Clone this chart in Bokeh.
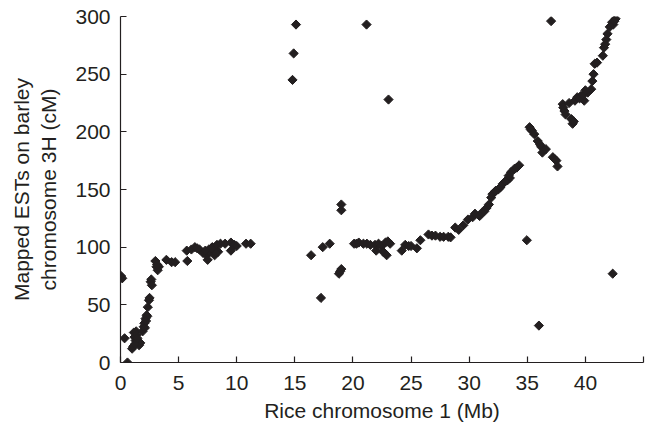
import numpy as np
from bokeh.plotting import figure
from bokeh.models import ColumnDataSource, FixedTicker, Range1d
from bokeh.embed import file_html
from bokeh.resources import INLINE

x_mb = [0.05, 0.15, 0.35, 0.6, 1.0, 1.1, 1.15, 1.2, 1.3, 1.35, 1.4, 1.5, 1.6, 1.7,
        1.9, 2.0, 2.05, 2.15, 2.25, 2.3, 2.35, 2.45, 2.5, 2.6, 2.65, 2.7,
        3.0, 3.1, 3.2, 3.3, 3.95, 4.4, 4.7, 5.7, 5.75, 6.1, 6.4, 6.8, 7.1, 7.4, 7.5,
        7.6, 7.7, 7.9, 8.0, 8.1, 8.3, 8.4, 8.6, 9.5, 9.5, 9.8, 10.8,
        1.25, 1.45, 2.1, 2.2, 3.15, 6.6, 7.3, 7.8, 8.2, 9.0, 10.0,
        11.2, 14.8, 14.9, 15.1, 16.4, 17.25, 17.4, 18.0, 18.8, 18.9, 19.0, 19.0, 19.0,
        20.1, 20.3, 20.5, 20.9, 21.2, 21.17, 21.5, 21.9, 22.0, 22.2, 22.45, 22.6, 22.8,
        22.9, 23.0, 23.06, 23.2, 24.2, 24.5, 24.8, 25.0, 25.5, 25.8, 26.5, 26.8, 27.1,
        27.5, 27.8, 28.2, 28.4,
        28.8, 29.1, 29.5, 29.9, 30.3, 30.5, 30.9, 31.1, 31.3, 31.5, 31.7, 32.0, 32.2,
        32.5, 32.7, 32.9, 33.3, 33.5, 33.6, 33.9, 34.1, 34.3, 34.96, 35.2, 35.4, 35.6,
        35.9, 36.0, 36.2, 36.3, 36.6, 37.05, 37.2, 37.4, 37.5, 37.6, 38.05, 38.2, 38.3,
        38.8, 38.9, 39.1, 39.3, 39.6, 39.9, 40.2, 40.5, 40.6, 40.7, 40.8, 41.0, 41.5,
        41.6, 41.8, 41.9, 42.1, 42.3, 42.35, 42.6,
        31.9, 32.3, 33.1, 33.4, 35.3, 36.1, 38.1, 38.6, 39.0, 39.5, 39.8, 40.0, 41.7, 42.4, 42.5]
y_cm = [75, 73, 21, 0, 12, 14, 26, 22, 19, 27, 24, 17, 15, 17,
        27, 31, 34, 38, 41, 40, 48, 54, 56, 70, 72, 67,
        88, 83, 80, 83, 89, 87, 87, 97, 88, 98, 100, 98, 95, 93, 89,
        98, 96, 100, 97, 93, 102, 96, 103, 104, 97, 102, 103,
        16, 21, 30, 36, 85, 99, 97, 99, 95, 103, 101,
        103, 245, 268, 293, 93, 56, 100, 103, 77, 79, 81, 132, 137,
        103, 103, 104, 103, 103, 293, 102, 102, 97, 103, 101, 96, 104,
        93, 105, 228, 103, 97, 102, 101, 101, 99, 106, 111, 110, 110,
        109, 109, 109, 108.5,
        117, 115, 119, 124, 126, 129, 127, 130, 131, 134, 137, 146, 148,
        150, 152, 155, 158, 160, 165, 168, 169, 171, 106, 204, 201, 198,
        192, 32, 187, 182, 185, 296, 178, 176, 175, 170, 224, 218, 215,
        211, 207, 227, 230, 231, 227, 234, 237, 244, 250, 259, 260, 266,
        273, 280, 285, 291, 295, 77, 298,
        143, 149, 157, 162, 202, 189, 221, 225, 209, 229, 232, 236, 276, 293, 296]

x_ticks = [0, 5, 10, 15, 20, 25, 30, 35, 40, 45]
x_tick_labels = {0: "0", 5: "5", 10: "10", 15: "15", 20: "20", 25: "25",
                 30: "30", 35: "35", 40: "40", 45: ""}
y_ticks = [0, 50, 100, 150, 200, 250, 300]

ink = "#231f20"
FONT = "Liberation Sans"

p = figure(width=648, height=427, output_backend="svg", toolbar_location=None,
           x_range=Range1d(0, 45), y_range=Range1d(0, 300),
           min_border_left=120, min_border_right=5, min_border_top=16,
           min_border_bottom=65)
p.outline_line_color = None
p.grid.visible = False
p.background_fill_color = "white"

src = ColumnDataSource(dict(x=x_mb, y=y_cm))
p.scatter("x", "y", source=src, marker="square", size=6.5, angle=np.pi / 4,
          fill_color=ink, line_color=ink, line_width=1)

for ax in (p.xaxis[0], p.yaxis[0]):
    ax.axis_line_color = ink
    ax.axis_line_width = 1.2
    ax.major_tick_line_color = ink
    ax.major_tick_line_width = 1.2
    ax.major_tick_in = 6
    ax.major_tick_out = 0
    ax.minor_tick_line_color = None
    ax.major_label_text_font = FONT
    ax.major_label_text_font_size = "21px"
    ax.major_label_text_color = ink
    ax.axis_label_text_font = FONT
    ax.axis_label_text_font_size = "21px"
    ax.axis_label_text_font_style = "normal"
    ax.axis_label_text_color = ink

p.xaxis.ticker = FixedTicker(ticks=x_ticks)
p.xaxis.major_label_overrides = x_tick_labels
p.yaxis.ticker = FixedTicker(ticks=y_ticks)
p.xaxis.axis_label = "Rice chromosome 1 (Mb)"
p.yaxis.axis_label = "Mapped ESTs on barley\nchromosome 3H (cM)"
p.xaxis.major_label_standoff = 13
p.yaxis.major_label_standoff = 10
p.xaxis.axis_label_standoff = 6
p.yaxis.axis_label_standoff = 12

open("out.html", "w").write(file_html(p, INLINE))
